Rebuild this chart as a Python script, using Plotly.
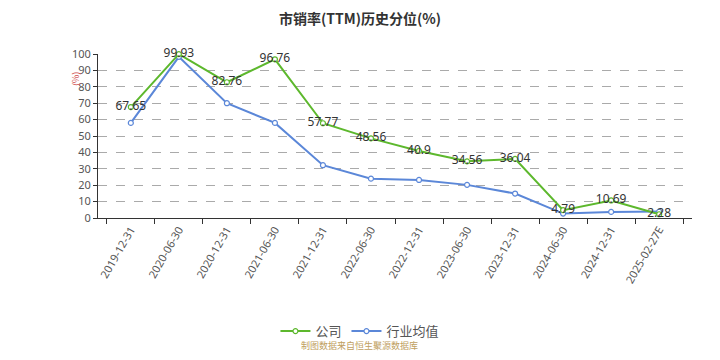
import plotly.graph_objects as go

categories = ["2019-12-31", "2020-06-30", "2020-12-31", "2021-06-30", "2021-12-31",
              "2022-06-30", "2022-12-31", "2023-06-30", "2023-12-31", "2024-06-30",
              "2024-12-31", "2025-02-27E"]
company = [67.65, 99.93, 82.76, 96.76, 57.77, 48.56, 40.9, 34.56, 36.04, 4.79, 10.69, 2.28]
industry = [58.0, 98.3, 70.0, 58.0, 32.2, 24.0, 23.2, 20.2, 14.9, 2.7, 3.7, 3.9]
company_labels = ["67.65", "99.93", "82.76", "96.76", "57.77", "48.56", "40.9", "34.56",
                  "36.04", "4.79", "10.69", "2.28"]

green = "#5db82d"
blue = "#5b87d8"

fig = go.Figure()
fig.add_trace(go.Scatter(
    x=categories, y=industry, name="行业均值", mode="lines+markers",
    line=dict(color=blue, width=2),
    marker=dict(symbol="circle", size=5, color="white", line=dict(color=blue, width=1.2)),
    cliponaxis=False,
))
fig.add_trace(go.Scatter(
    x=categories, y=company, name="公司", mode="lines+markers+text",
    line=dict(color=green, width=2),
    marker=dict(symbol="circle", size=5, color="white", line=dict(color=green, width=1.2)),
    text=company_labels, textposition="middle center",
    textfont=dict(size=12, color="#333333", family="Noto Sans"),
    cliponaxis=False,
))

fig.update_layout(
    width=720, height=360,
    margin=dict(l=90, r=36, t=46, b=150, autoexpand=False),
    paper_bgcolor="white", plot_bgcolor="white",
    font=dict(family="Noto Sans CJK SC, Noto Sans", color="#555555"),
    title=dict(text="<b>市销率(TTM)历史分位(%)</b>", x=0.489, xanchor="center",
               y=0.968, yanchor="middle", font=dict(size=14, color="#333333")),
    showlegend=True,
    legend=dict(orientation="h", x=0.441, xanchor="center", y=-0.69, yanchor="middle",
                font=dict(size=13, color="#555555"), traceorder="reversed"),
    xaxis=dict(type="category", showgrid=False, showline=True, linecolor="#333333",
               linewidth=1, ticks="outside", tickson="boundaries", ticklen=5,
               tickcolor="#333333", tickangle=-60, automargin=False,
               tickfont=dict(size=11, color="#555555", family="Noto Sans")),
    yaxis=dict(range=[0, 100], dtick=10, showgrid=True, gridcolor="#aaaaaa",
               griddash="dash", gridwidth=1, showline=True, linecolor="#333333",
               ticks="outside", ticklen=4, tickcolor="#333333", zeroline=False,
               automargin=False,
               tickfont=dict(size=11, color="#555555", family="Noto Sans")),
    annotations=[
        dict(text="(%)", x=-0.052, y=0.9, xref="paper", yref="paper", textangle=-90,
             showarrow=False, font=dict(size=9, color="#d05050")),
        dict(text="制图数据来自恒生聚源数据库", x=0.441, y=-0.83, xref="paper", yref="paper",
             showarrow=False, font=dict(size=9, color="#c0a060")),
    ],
)

fig.write_html("out.html")
